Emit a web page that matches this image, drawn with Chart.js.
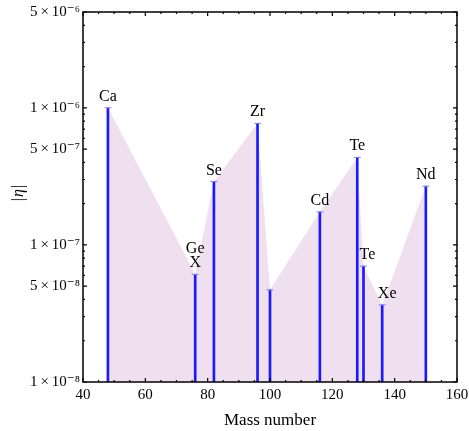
<!DOCTYPE html>
<html>
<head>
<meta charset="utf-8">
<script src="https://cdn.jsdelivr.net/npm/chart.js@4/dist/chart.umd.min.js"></script>
<style>
    body { margin: 0; background: #fff; }
    #wrap { width: 469px; height: 431px; }
</style>
</head>
<body>
<div id="wrap"><canvas id="chart" width="469" height="431"></canvas></div>
<script>
// Data
const massNumbers = [48, 76, 82, 96, 100, 116, 128, 130, 136, 150];
const etaValues = [1.0e-6, 6.1e-8, 2.9e-7, 7.7e-7, 4.7e-8, 1.74e-7, 4.35e-7, 7.0e-8, 3.65e-8, 2.68e-7];
const elementLabels = ['Ca', ['Ge', 'X'], 'Se', 'Zr', '', 'Cd', 'Te', 'Te', 'Xe', 'Nd'];
const xTicks = [40, 60, 80, 100, 120, 140, 160];
const yTicks = [1e-8, 5e-8, 1e-7, 5e-7, 1e-6, 5e-6];
const yTickLabels = ['1\u2009×\u200910⁻⁸', '5\u2009×\u200910⁻⁸', '1\u2009×\u200910⁻⁷', '5\u2009×\u200910⁻⁷', '1\u2009×\u200910⁻⁶', '5\u2009×\u200910⁻⁶'];

const Y_MIN = 1e-8;
const Y_MAX = 5e-6;
const SERIF = "'Liberation Serif', 'DejaVu Serif', serif";

const points = massNumbers.map((m, i) => ({ x: m, y: etaValues[i] }));
const stems = massNumbers.map((m, i) => ({ x: m, y: [Y_MIN, etaValues[i]] }));

// Frame with inward ticks (Mathematica style)
const framePlugin = {
    id: 'frame',
    afterDraw(chart) {
        const { ctx, chartArea: a, scales } = chart;
        const xs = scales.x, ys = scales.y;
        ctx.save();
        ctx.strokeStyle = '#000';
        ctx.lineWidth = 1.5;
        ctx.strokeRect(a.left, a.top, a.right - a.left, a.bottom - a.top);

        ctx.lineWidth = 1.2;
        ctx.beginPath();
        for (let v = 40; v <= 160; v += 5) {
            const px = xs.getPixelForValue(v);
            const len = v % 20 === 0 ? 4 : 2;
            ctx.moveTo(px, a.bottom); ctx.lineTo(px, a.bottom - len);
            ctx.moveTo(px, a.top); ctx.lineTo(px, a.top + len);
        }
        for (let e = -8; e <= -6; e++) {
            for (let m = 1; m <= 9; m++) {
                const v = m * Math.pow(10, e);
                if (v < Y_MIN || v > Y_MAX * 1.0001) continue;
                const py = ys.getPixelForValue(v);
                const len = (m === 1 || m === 5) ? 4 : 2;
                ctx.moveTo(a.left, py); ctx.lineTo(a.left + len, py);
                ctx.moveTo(a.right, py); ctx.lineTo(a.right - len, py);
            }
        }
        ctx.stroke();

        // axis titles
        ctx.fillStyle = '#000';
        ctx.font = '17px ' + SERIF;
        ctx.textAlign = 'center';
        ctx.textBaseline = 'alphabetic';
        ctx.fillText('Mass number', (a.left + a.right) / 2, 425);

        ctx.translate(23, 193);
        ctx.rotate(-Math.PI / 2);
        ctx.font = '16px ' + SERIF;
        const bar = ctx.measureText('|').width;
        ctx.font = 'italic 16px ' + SERIF;
        const eta = ctx.measureText('η').width;
        const total = bar * 2 + eta + 2;
        ctx.textAlign = 'left';
        ctx.font = '16px ' + SERIF;
        ctx.fillText('|', -total / 2, 0);
        ctx.font = 'italic 16px ' + SERIF;
        ctx.fillText('η', -total / 2 + bar + 1, 0);
        ctx.font = '16px ' + SERIF;
        ctx.fillText('|', -total / 2 + bar + eta + 2, 0);
        ctx.restore();
    }
};

// Element names above each stem
const labelPlugin = {
    id: 'elementLabels',
    afterDatasetsDraw(chart) {
        const { ctx } = chart;
        const meta = chart.getDatasetMeta(2);
        const shift = { 130: 4, 136: 5 };
        ctx.save();
        ctx.fillStyle = '#000';
        ctx.font = '16px ' + SERIF;
        ctx.textAlign = 'center';
        ctx.textBaseline = 'alphabetic';
        meta.data.forEach((pt, i) => {
            const lab = elementLabels[i];
            if (!lab) return;
            const lines = Array.isArray(lab) ? lab : [lab];
            const x = pt.x + (shift[massNumbers[i]] || 0);
            lines.slice().reverse().forEach((t, k) => {
                ctx.fillText(t, x, pt.y - 7 - k * 14);
            });
        });
        ctx.restore();
    }
};

new Chart(document.getElementById('chart'), {
    type: 'bar',
    data: {
        datasets: [
            {
                type: 'line',
                data: points,
                fill: 'start',
                backgroundColor: '#efdfef',
                borderWidth: 0,
                pointRadius: 0,
                tension: 0,
                order: 3
            },
            {
                type: 'bar',
                data: stems,
                backgroundColor: '#1a1aff',
                barThickness: 2,
                grouped: false,
                borderWidth: 0,
                order: 2
            },
            {
                type: 'scatter',
                data: points,
                pointStyle: 'line',
                pointRadius: 3.5,
                borderWidth: 1,
                borderColor: '#8080ff',
                order: 1
            }
        ]
    },
    options: {
        responsive: false,
        animation: false,
        layout: { padding: { top: 12, right: 12, left: 0, bottom: 0 } },
        plugins: {
            legend: { display: false },
            tooltip: { enabled: false }
        },
        scales: {
            x: {
                type: 'linear',
                min: 40,
                max: 160,
                offset: false,
                grid: { display: false, drawTicks: false, offset: false },
                border: { display: false },
                afterBuildTicks: s => { s.ticks = xTicks.map(v => ({ value: v })); },
                afterFit: s => { s.height = 49; s.paddingLeft = 0; s.paddingRight = 0; },
                ticks: {
                    color: '#000',
                    padding: 4,
                    maxRotation: 0,
                    autoSkip: false,
                    font: { family: SERIF, size: 15 }
                }
            },
            y: {
                type: 'logarithmic',
                min: Y_MIN,
                max: Y_MAX,
                grid: { display: false, drawTicks: false },
                border: { display: false },
                afterBuildTicks: s => { s.ticks = yTicks.map(v => ({ value: v })); },
                afterFit: s => { s.width = 83; s.paddingTop = 0; s.paddingBottom = 0; },
                ticks: {
                    color: '#000',
                    padding: 3,
                    autoSkip: false,
                    font: { family: SERIF, size: 15 },
                    callback: v => {
                        const i = yTicks.findIndex(t => Math.abs(t - v) / t < 1e-6);
                        return i >= 0 ? yTickLabels[i] : '';
                    }
                }
            }
        }
    },
    plugins: [framePlugin, labelPlugin]
});
</script>
</body>
</html>
